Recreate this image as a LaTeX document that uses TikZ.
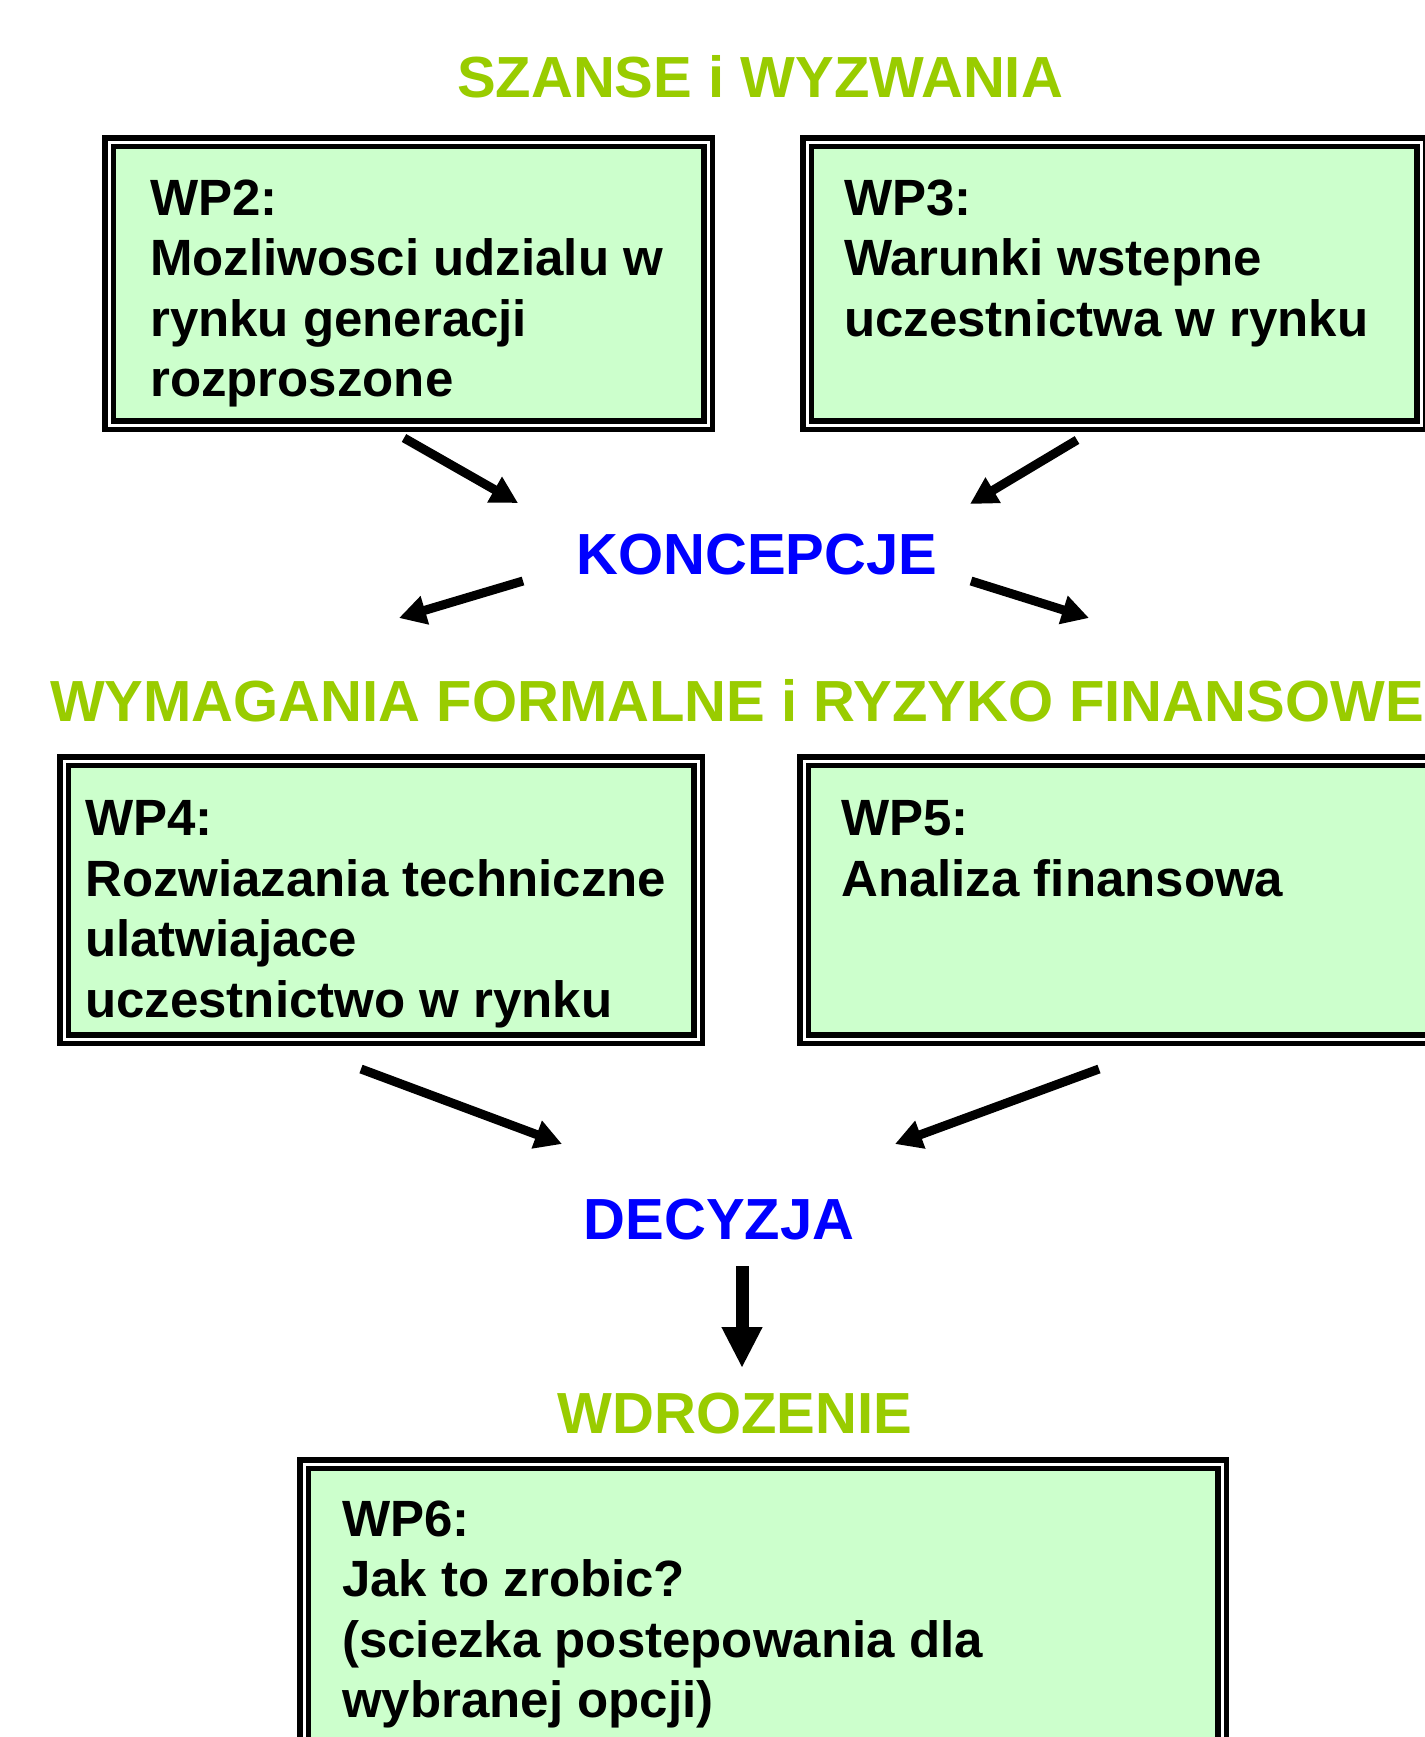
\documentclass[tikz,border=0pt]{standalone}
\usepackage{fontspec}
\setmainfont{Liberation Sans}
\usetikzlibrary{arrows.meta}
\definecolor{titlegreen}{RGB}{153,204,0}
\definecolor{boxgreen}{RGB}{204,255,204}
\definecolor{conceptblue}{RGB}{0,0,255}
\begin{document}
\begin{tikzpicture}[x=1pt,y=-1pt,
  box/.style={draw=black, double=white, double distance=3pt, line width=5.5pt, fill=boxgreen, inner sep=0pt, outer sep=0pt},
  boxtext/.style={anchor=north west, inner sep=0pt, align=left, font=\fontsize{51pt}{60.5pt}\selectfont\bfseries},
  titletext/.style={anchor=base, inner sep=0pt, font=\fontsize{58pt}{66pt}\selectfont\bfseries},
  arr/.style={line width=9pt, -{Triangle[width=28pt,length=27pt]}},
  bigarr/.style={line width=13pt, -{Triangle[width=38pt,length=41pt]}},
]
\useasboundingbox (0,0) rectangle (1424,1737);
\fill[white] (0,0) rectangle (1424,1737);

% titles
\node[titletext, text=titlegreen] (szanse) at (760,97) {SZANSE i WYZWANIA};
\node[titletext, text=conceptblue] (koncepcje) at (757,574) {KONCEPCJE};
\node[titletext, text=titlegreen, anchor=base west] (wymagania) at (50,721) {WYMAGANIA FORMALNE i RYZYKO FINANSOWE};
\node[titletext, text=conceptblue] (decyzja) at (719,1239) {DECYZJA};
\node[titletext, text=titlegreen] (wdrozenie) at (735,1433) {WDROZENIE};

% boxes
\node[box, minimum width=599pt, minimum height=283pt] (wp2) at (408.5,283.5) {};
\node[box, minimum width=614pt, minimum height=283pt] (wp3) at (1114,283.5) {};
\node[box, minimum width=634pt, minimum height=278pt] (wp4) at (381,900) {};
\node[box, minimum width=634pt, minimum height=278pt] (wp5) at (1121,900) {};
\node[box, minimum width=918pt, minimum height=289pt] (wp6) at (763,1608.5) {};

% box texts
\node[boxtext] (wp2t) at (150,179.5) {WP2:\\Mozliwosci udzialu w\\rynku generacji\\rozproszone};
\node[boxtext] (wp3t) at (844,179.5) {WP3:\\Warunki wstepne\\uczestnictwa w rynku};
\node[boxtext] (wp4t) at (85,800.5) {WP4:\\Rozwiazania techniczne\\ulatwiajace\\uczestnictwo w rynku};
\node[boxtext] (wp5t) at (841,800.5) {WP5:\\Analiza finansowa};
\node[boxtext] (wp6t) at (342,1500.5) {WP6:\\Jak to zrobic?\\(sciezka postepowania dla\\wybranej opcji)};

% arrow end points
\coordinate (a1s) at (404,438);  \coordinate (a1e) at (518,503);
\coordinate (a2s) at (1077,440); \coordinate (a2e) at (970,504);
\coordinate (a3s) at (523,581);  \coordinate (a3e) at (399,618);
\coordinate (a4s) at (971,581);  \coordinate (a4e) at (1089,618);
\coordinate (a5s) at (361,1069); \coordinate (a5e) at (562,1144);
\coordinate (a6s) at (1099,1069);\coordinate (a6e) at (895,1144);
\coordinate (a7s) at (742,1266); \coordinate (a7e) at (742,1368);

\draw[arr] (a1s) -- (a1e);
\draw[arr] (a2s) -- (a2e);
\draw[arr] (a3s) -- (a3e);
\draw[arr] (a4s) -- (a4e);
\draw[arr] (a5s) -- (a5e);
\draw[arr] (a6s) -- (a6e);
\draw[bigarr] (a7s) -- (a7e);
\end{tikzpicture}
\end{document}
